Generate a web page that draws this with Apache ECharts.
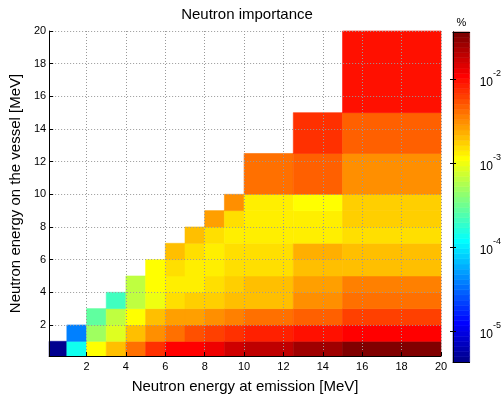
<!DOCTYPE html>
<html>
<head>
<meta charset="utf-8">
<script src="https://cdn.jsdelivr.net/npm/echarts@6/dist/echarts.min.js"></script>
<style>
html, body { margin: 0; padding: 0; background: #fff; }
#main { width: 504px; height: 399px; }
</style>
</head>
<body>
<div id="main"></div>
<script>
// bin edges (MeV) for emission energy (x) and energy on the vessel (y)
var xEdges = [0.1, 1, 2, 3, 4, 5, 6, 7, 8, 9, 10, 12.5, 15, 20];
var yEdges = [0.1, 1, 2, 3, 4, 5, 6, 7, 8, 9, 10, 12.5, 15, 20];
var axisTicks = [2, 4, 6, 8, 10, 12, 14, 16, 18, 20];
var barTicks = [-5, -4, -3, -2];

// importance in %, one array per vessel-energy bin, one entry per emission bin
var row0  = [4.6e-6, 1.36e-4, 1.14e-3, 2.0e-3, 4.1e-3, 7.1e-3, 1.09e-2, 1.09e-2, 1.26e-2, 1.67e-2, 1.92e-2, 2.55e-2, 3.38e-2];
var row1  = [null, 3.8e-5, 4.9e-4, 8.6e-4, 2.0e-3, 3.05e-3, 4.1e-3, 5.4e-3, 6.2e-3, 7.1e-3, 8.2e-3, 9.5e-3, 1.09e-2];
var row2  = [null, null, 2.8e-4, 6.5e-4, 1.14e-3, 2.0e-3, 2.65e-3, 2.65e-3, 3.05e-3, 3.5e-3, 4.1e-3, 4.7e-3, 6.2e-3];
var row3  = [null, null, null, 2.1e-4, 6.5e-4, 9.9e-4, 1.51e-3, 1.74e-3, 1.74e-3, 2.0e-3, 2.0e-3, 3.05e-3, 4.1e-3];
var row4  = [null, null, null, null, 6.5e-4, 1.14e-3, 1.31e-3, 1.31e-3, 1.51e-3, 1.74e-3, 2.0e-3, 2.65e-3, 3.5e-3];
var row5  = [null, null, null, null, null, 1.14e-3, 1.51e-3, 1.31e-3, 1.31e-3, 1.51e-3, 1.51e-3, 2.0e-3, 2.0e-3];
var row6  = [null, null, null, null, null, null, 2.0e-3, 1.51e-3, 1.31e-3, 1.51e-3, 1.51e-3, 2.3e-3, 2.0e-3];
var row7  = [null, null, null, null, null, null, null, 2.0e-3, 1.51e-3, 1.31e-3, 1.31e-3, 1.31e-3, 1.51e-3];
var row8  = [null, null, null, null, null, null, null, null, 2.65e-3, 1.51e-3, 1.31e-3, 1.31e-3, 1.74e-3];
var row9  = [null, null, null, null, null, null, null, null, null, 3.05e-3, 1.31e-3, 1.14e-3, 1.74e-3];
var row10 = [null, null, null, null, null, null, null, null, null, null, 4.1e-3, 4.7e-3, 3.05e-3];
var row11 = [null, null, null, null, null, null, null, null, null, null, null, 7.1e-3, 4.7e-3];
var row12 = [null, null, null, null, null, null, null, null, null, null, null, null, 9.5e-3];
var rows = [row0, row1, row2, row3, row4, row5, row6, row7, row8, row9, row10, row11, row12];

// colour limits (log10 of %)
var logMin = -5.37, logMax = -1.44;
var nColors = 64;

var font = 'Liberation Sans, Arial, sans-serif';

// matlab jet(64)
var u = [];
for (var a = 1; a <= 16; a++) u.push(a / 16);
for (var a = 0; a < 15; a++) u.push(1);
for (var a = 16; a >= 1; a--) u.push(a / 16);
function uAt(j) { return (j >= 1 && j <= u.length) ? u[j - 1] : 0; }
function jet(k) {
  var r = uAt(k - 24), g = uAt(k - 8), b = uAt(k + 8);
  return 'rgb(' + Math.round(r * 255) + ',' + Math.round(g * 255) + ',' + Math.round(b * 255) + ')';
}
function colorIndex(v) {
  var k = Math.floor((Math.log10(v) - logMin) / (logMax - logMin) * nColors) + 1;
  return Math.max(1, Math.min(nColors, k));
}

var cells = [];
rows.forEach(function (row, j) {
  row.forEach(function (v, i) {
    if (v == null) return;
    cells.push([xEdges[i], xEdges[i + 1], yEdges[j], yEdges[j + 1], v]);
  });
});

var bands = [];
var step = (logMax - logMin) / nColors;
for (var k = 0; k < nColors; k++) {
  bands.push([0, 1, logMin + k * step, logMin + (k + 1) * step, k + 1]);
}

function rectItem(params, api, fill) {
  var p0 = api.coord([api.value(0), api.value(2)]);
  var p1 = api.coord([api.value(1), api.value(3)]);
  return {
    type: 'rect',
    shape: { x: p0[0], y: p1[1], width: p1[0] - p0[0], height: p0[1] - p1[1] },
    style: { fill: fill, stroke: fill, lineWidth: 0.6 }
  };
}

var black = { color: '#000', width: 1 };
var dotted = { show: true, lineStyle: { color: '#999', width: 1, type: [1, 2] } };

var chart = echarts.init(document.getElementById('main'));
chart.setOption({
  backgroundColor: '#fff',
  animation: false,
  title: {
    text: 'Neutron importance',
    left: 242, top: 2, textAlign: 'center',
    textStyle: { fontSize: 15, fontWeight: 'normal', color: '#000', fontFamily: font }
  },
  grid: [
    { left: 43, top: 31, width: 398, height: 331 },
    { left: 453, top: 32, width: 17, height: 330 }
  ],
  xAxis: [
    {
      gridIndex: 0, type: 'value', min: 0.1, max: 20, splitNumber: 10, z: 5,
      name: 'Neutron energy at emission [MeV]', nameLocation: 'middle', nameGap: 23,
      nameTextStyle: { fontSize: 15, color: '#000', fontFamily: font },
      axisLine: { lineStyle: black },
      axisTick: { customValues: axisTicks, inside: true, length: 4, lineStyle: black },
      axisLabel: { customValues: axisTicks, fontSize: 11, color: '#000', margin: 5, fontFamily: font },
      splitLine: dotted
    },
    {
      gridIndex: 1, type: 'value', min: 0, max: 1, z: 5,
      axisLine: { lineStyle: black }, axisTick: { show: false },
      axisLabel: { show: false }, splitLine: { show: false }
    },
    {
      gridIndex: 1, type: 'value', min: 0, max: 1, position: 'top', z: 5,
      name: '%', nameLocation: 'middle', nameGap: 4,
      nameTextStyle: { fontSize: 11, color: '#000', fontFamily: font },
      axisLine: { lineStyle: black }, axisTick: { show: false },
      axisLabel: { show: false }, splitLine: { show: false }
    }
  ],
  yAxis: [
    {
      gridIndex: 0, type: 'value', min: 0.1, max: 20, splitNumber: 10, z: 5,
      name: 'Neutron energy on the vessel [MeV]', nameLocation: 'middle', nameGap: 22,
      nameTextStyle: { fontSize: 15, color: '#000', fontFamily: font },
      axisLine: { lineStyle: black },
      axisTick: { customValues: axisTicks, inside: true, length: 4, lineStyle: black },
      axisLabel: { customValues: axisTicks, fontSize: 11, color: '#000', margin: 3, fontFamily: font },
      splitLine: dotted
    },
    {
      gridIndex: 1, type: 'value', min: logMin, max: logMax, position: 'right', z: 5,
      axisLine: { lineStyle: black },
      axisTick: { customValues: barTicks, inside: true, length: 3, lineStyle: black },
      axisLabel: {
        customValues: barTicks, margin: 10, color: '#000', fontFamily: font,
        formatter: function (v) { return '{b|10}{s|' + Math.round(v) + '}'; },
        rich: {
          b: { fontSize: 12, lineHeight: 20, verticalAlign: 'bottom', fontFamily: font, color: '#000' },
          s: { fontSize: 9, lineHeight: 20, verticalAlign: 'top', fontFamily: font, color: '#000' }
        }
      },
      splitLine: { show: false }
    },
    {
      gridIndex: 1, type: 'value', min: logMin, max: logMax, position: 'left', z: 5,
      axisLine: { lineStyle: black },
      axisTick: { customValues: barTicks, inside: true, length: 3, lineStyle: black },
      axisLabel: { show: false }, splitLine: { show: false }
    }
  ],
  series: [
    {
      type: 'custom', xAxisIndex: 0, yAxisIndex: 0,
      encode: { x: [0, 1], y: [2, 3] },
      data: cells,
      renderItem: function (params, api) {
        return rectItem(params, api, jet(colorIndex(api.value(4))));
      }
    },
    {
      type: 'custom', xAxisIndex: 1, yAxisIndex: 1,
      encode: { x: [0, 1], y: [2, 3] },
      data: bands,
      renderItem: function (params, api) {
        return rectItem(params, api, jet(api.value(4)));
      }
    }
  ]
});
</script>
</body>
</html>
